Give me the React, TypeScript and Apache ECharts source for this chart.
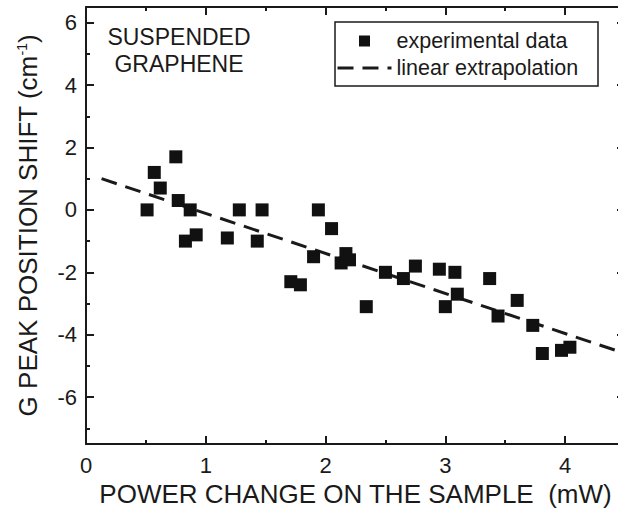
import React, { useEffect, useRef } from "react";
import * as echarts from "echarts";

const powerChange = [
  0.51, 0.57, 0.62, 0.75, 0.77, 0.83, 0.87, 0.92, 1.18, 1.28, 1.43, 1.47, 1.71, 1.79,
  1.9, 1.94, 2.05, 2.13, 2.17, 2.2, 2.34, 2.5, 2.65, 2.75, 2.95, 3.0, 3.08, 3.1, 3.37,
  3.44, 3.6, 3.73, 3.81, 3.97, 4.04,
];
const peakShift = [
  0, 1.2, 0.7, 1.7, 0.3, -1.0, 0, -0.8, -0.9, 0, -1.0, 0, -2.3, -2.4,
  -1.5, 0, -0.6, -1.7, -1.4, -1.6, -3.1, -2.0, -2.2, -1.8, -1.9, -3.1, -2.0, -2.7, -2.2,
  -3.4, -2.9, -3.7, -4.6, -4.5, -4.4,
];
// Linear extrapolation end points
const fitX = [0.13, 4.5];
const fitY = [1.0, -4.6];

// Axis ticks
const xMajorTicks = [0, 1, 2, 3, 4];
const xMinorTicks = [0.5, 1.5, 2.5, 3.5];
const yMajorTicks = [-6, -4, -2, 0, 2, 4, 6];
const yMinorTicks = [-7, -5, -3, -1, 1, 3, 5];

const seriesNames = ["experimental data", "linear extrapolation"];

const FONT = "Liberation Sans, Arial, Helvetica, sans-serif";
const INK = "#1a1a1a";

export default function App() {
  const ref = useRef<HTMLDivElement>(null);

  useEffect(() => {
    if (!ref.current) return;
    const chart = echarts.init(ref.current, null, { renderer: "svg" });

    const xRange = { min: 0, max: 4.5 };
    const yRange = { min: -7.5, max: 6.5 };

    const tickAxisX = (position: string, values: number[], len: number, line: boolean, labels: boolean, extra: any = {}) => ({
      type: "value",
      position,
      ...xRange,
      splitLine: { show: false },
      axisLine: { show: line, onZero: false, lineStyle: { color: INK, width: 2 } },
      axisTick: { show: true, inside: true, length: len, customValues: values, lineStyle: { color: INK, width: 2 } },
      axisLabel: labels
        ? { show: true, customValues: values, color: INK, fontSize: 22, fontFamily: FONT, margin: 10 }
        : { show: false },
      ...extra,
    });
    const tickAxisY = (position: string, values: number[], len: number, line: boolean, labels: boolean, extra: any = {}) => ({
      type: "value",
      position,
      ...yRange,
      splitLine: { show: false },
      axisLine: { show: line, onZero: false, lineStyle: { color: INK, width: 2 } },
      axisTick: { show: true, inside: true, length: len, customValues: values, lineStyle: { color: INK, width: 2 } },
      axisLabel: labels
        ? { show: true, customValues: values, color: INK, fontSize: 22, fontFamily: FONT, margin: 9 }
        : { show: false },
      ...extra,
    });

    const pts = powerChange.map((x, i) => [x, peakShift[i]]);
    const fit = fitX.map((x, i) => [x, fitY[i]]);

    chart.setOption({
      animation: false,
      backgroundColor: "#ffffff",
      textStyle: { fontFamily: FONT },
      grid: { left: 86, right: -7, top: 7, bottom: 71, containLabel: false, outerBoundsMode: "none" },
      xAxis: [
        tickAxisX("bottom", xMajorTicks, 8, true, true, {
          name: "POWER CHANGE ON THE SAMPLE  (mW)",
          nameLocation: "middle",
          nameGap: 37,
          nameTextStyle: { color: INK, fontSize: 26, fontFamily: FONT },
        }),
        tickAxisX("bottom", xMinorTicks, 4, false, false),
        tickAxisX("top", xMajorTicks, 8, true, false),
        tickAxisX("top", xMinorTicks, 4, false, false),
      ],
      yAxis: [
        tickAxisY("left", yMajorTicks, 8, true, true, {
          name: "G PEAK POSITION SHIFT (cm{sup|-1})",
          nameLocation: "middle",
          nameGap: 45,
          nameTextStyle: {
            color: INK,
            fontSize: 26,
            fontFamily: FONT,
            rich: { sup: { fontSize: 14, verticalAlign: "top", color: INK, fontFamily: FONT } },
          },
        }),
        tickAxisY("left", yMinorTicks, 4, false, false),
        tickAxisY("right", yMajorTicks, 8, true, false),
        tickAxisY("right", yMinorTicks, 4, false, false),
      ],
      legend: {
        orient: "vertical",
        left: 335,
        top: 22,
        padding: [7, 0, 6, 1],
        itemGap: 3,
        itemWidth: 54,
        itemHeight: 11,
        z: 10,
        textStyle: { color: INK, fontSize: 21.5, fontFamily: FONT, lineHeight: 24 },
        lineStyle: { width: 3 },
        data: [
          { name: seriesNames[0], icon: "path://M0,0H10V10H0Z", itemStyle: { color: "#111111", opacity: 1 } },
          { name: seriesNames[1], itemStyle: { opacity: 0 } },
        ],
      },
      graphic: [
        {
          type: "rect",
          shape: { x: 335, y: 22, width: 263, height: 64 },
          style: { fill: "none", stroke: INK, lineWidth: 1.5 },
          z: 1,
          silent: true,
        },
        {
          type: "text",
          x: 179,
          y: 23,
          style: {
            text: "SUSPENDED\nGRAPHENE",
            fill: INK,
            font: `23px ${FONT}`,
            lineHeight: 27,
            textAlign: "center",
            textVerticalAlign: "top",
          },
        },
      ],
      series: [
        {
          name: seriesNames[1],
          type: "line",
          xAxisIndex: 0,
          yAxisIndex: 0,
          data: fit,
          symbol: "none",
          showSymbol: false,
          lineStyle: { color: INK, width: 3, type: [16, 9] },
          itemStyle: { color: INK },
          z: 2,
        },
        {
          name: seriesNames[0],
          type: "scatter",
          xAxisIndex: 0,
          yAxisIndex: 0,
          data: pts,
          symbol: "rect",
          symbolSize: 13,
          itemStyle: { color: "#111111", opacity: 1 },
          z: 3,
        },
      ],
    });

    return () => chart.dispose();
  }, []);

  return (
    <div
      ref={ref}
      style={{ position: "absolute", left: 0, top: 0, width: 618, height: 515 }}
    />
  );
}
